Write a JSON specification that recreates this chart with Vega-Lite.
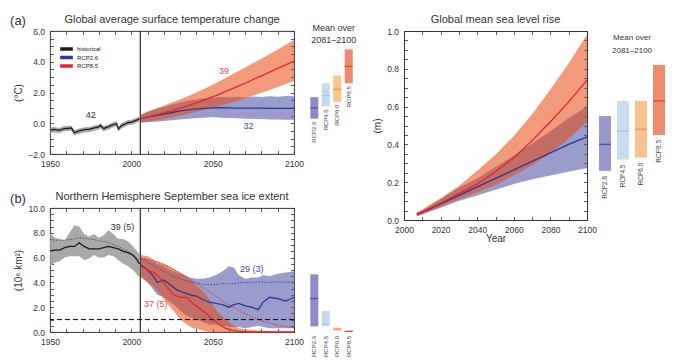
{
"$schema": "https://vega.github.io/schema/vega-lite/v6.json",
"background": "white",
"padding": {"left": 9, "top": 13, "right": 4, "bottom": 4},
"config": {
  "font": "Liberation Sans",
  "view": {"stroke": "#222", "strokeWidth": 0.9},
  "axis": {"domain": false, "grid": false, "tickSize": -3.5, "tickColor": "#333", "tickWidth": 0.8, "labelPadding": 9, "labelFontSize": 8.5, "labelColor": "#333", "labelFlush": false, "labelOverlap": false, "titleFontSize": 10, "titleFontWeight": "normal", "titleColor": "#333", "titlePadding": 4}
},
"datasets": {
  "tempA": [
    {"s":"historical","year":1950,"m":-0.45,"lo":-0.63,"hi":-0.29},
    {"s":"historical","year":1952,"m":-0.40,"lo":-0.58,"hi":-0.24},
    {"s":"historical","year":1954,"m":-0.43,"lo":-0.61,"hi":-0.27},
    {"s":"historical","year":1956,"m":-0.46,"lo":-0.64,"hi":-0.30},
    {"s":"historical","year":1958,"m":-0.36,"lo":-0.54,"hi":-0.20},
    {"s":"historical","year":1960,"m":-0.34,"lo":-0.52,"hi":-0.18},
    {"s":"historical","year":1962,"m":-0.33,"lo":-0.51,"hi":-0.17},
    {"s":"historical","year":1963,"m":-0.30,"lo":-0.48,"hi":-0.14},
    {"s":"historical","year":1964,"m":-0.45,"lo":-0.63,"hi":-0.29},
    {"s":"historical","year":1965,"m":-0.62,"lo":-0.80,"hi":-0.46},
    {"s":"historical","year":1966,"m":-0.57,"lo":-0.75,"hi":-0.41},
    {"s":"historical","year":1968,"m":-0.50,"lo":-0.68,"hi":-0.34},
    {"s":"historical","year":1970,"m":-0.45,"lo":-0.63,"hi":-0.29},
    {"s":"historical","year":1972,"m":-0.40,"lo":-0.58,"hi":-0.24},
    {"s":"historical","year":1974,"m":-0.40,"lo":-0.58,"hi":-0.24},
    {"s":"historical","year":1976,"m":-0.34,"lo":-0.52,"hi":-0.18},
    {"s":"historical","year":1978,"m":-0.28,"lo":-0.46,"hi":-0.12},
    {"s":"historical","year":1980,"m":-0.24,"lo":-0.42,"hi":-0.08},
    {"s":"historical","year":1981,"m":-0.14,"lo":-0.32,"hi":0.02},
    {"s":"historical","year":1982,"m":-0.24,"lo":-0.42,"hi":-0.08},
    {"s":"historical","year":1983,"m":-0.36,"lo":-0.54,"hi":-0.20},
    {"s":"historical","year":1984,"m":-0.30,"lo":-0.48,"hi":-0.14},
    {"s":"historical","year":1986,"m":-0.22,"lo":-0.40,"hi":-0.06},
    {"s":"historical","year":1988,"m":-0.12,"lo":-0.30,"hi":0.04},
    {"s":"historical","year":1990,"m":-0.05,"lo":-0.23,"hi":0.11},
    {"s":"historical","year":1991,"m":-0.03,"lo":-0.21,"hi":0.13},
    {"s":"historical","year":1992,"m":-0.36,"lo":-0.54,"hi":-0.20},
    {"s":"historical","year":1993,"m":-0.27,"lo":-0.45,"hi":-0.11},
    {"s":"historical","year":1994,"m":-0.15,"lo":-0.33,"hi":0.01},
    {"s":"historical","year":1996,"m":-0.06,"lo":-0.24,"hi":0.10},
    {"s":"historical","year":1998,"m":0.05,"lo":-0.13,"hi":0.21},
    {"s":"historical","year":2000,"m":0.06,"lo":-0.12,"hi":0.22},
    {"s":"historical","year":2002,"m":0.15,"lo":-0.03,"hi":0.31},
    {"s":"historical","year":2004,"m":0.24,"lo":0.06,"hi":0.40},
    {"s":"historical","year":2005,"m":0.28,"lo":0.10,"hi":0.44},
    {"s":"RCP2.6","year":2006,"m":0.30,"lo":0.05,"hi":0.55},
    {"s":"RCP2.6","year":2010,"m":0.40,"lo":0.06,"hi":0.74},
    {"s":"RCP2.6","year":2015,"m":0.50,"lo":0.10,"hi":0.92},
    {"s":"RCP2.6","year":2020,"m":0.60,"lo":0.14,"hi":1.06},
    {"s":"RCP2.6","year":2025,"m":0.70,"lo":0.20,"hi":1.22},
    {"s":"RCP2.6","year":2030,"m":0.80,"lo":0.24,"hi":1.34},
    {"s":"RCP2.6","year":2035,"m":0.87,"lo":0.30,"hi":1.46},
    {"s":"RCP2.6","year":2040,"m":0.93,"lo":0.34,"hi":1.55},
    {"s":"RCP2.6","year":2045,"m":0.97,"lo":0.36,"hi":1.62},
    {"s":"RCP2.6","year":2050,"m":1.00,"lo":0.40,"hi":1.64},
    {"s":"RCP2.6","year":2055,"m":1.01,"lo":0.36,"hi":1.70},
    {"s":"RCP2.6","year":2060,"m":1.00,"lo":0.34,"hi":1.68},
    {"s":"RCP2.6","year":2065,"m":0.99,"lo":0.32,"hi":1.72},
    {"s":"RCP2.6","year":2070,"m":0.98,"lo":0.30,"hi":1.68},
    {"s":"RCP2.6","year":2075,"m":0.98,"lo":0.28,"hi":1.74},
    {"s":"RCP2.6","year":2080,"m":0.98,"lo":0.28,"hi":1.70},
    {"s":"RCP2.6","year":2085,"m":0.97,"lo":0.25,"hi":1.76},
    {"s":"RCP2.6","year":2090,"m":0.97,"lo":0.24,"hi":1.72},
    {"s":"RCP2.6","year":2095,"m":0.97,"lo":0.22,"hi":1.78},
    {"s":"RCP2.6","year":2100,"m":0.97,"lo":0.22,"hi":1.75},
    {"s":"RCP8.5","year":2006,"m":0.30,"lo":0.05,"hi":0.55},
    {"s":"RCP8.5","year":2010,"m":0.42,"lo":0.10,"hi":0.75},
    {"s":"RCP8.5","year":2015,"m":0.55,"lo":0.20,"hi":0.95},
    {"s":"RCP8.5","year":2020,"m":0.68,"lo":0.28,"hi":1.15},
    {"s":"RCP8.5","year":2025,"m":0.82,"lo":0.38,"hi":1.35},
    {"s":"RCP8.5","year":2030,"m":0.98,"lo":0.50,"hi":1.55},
    {"s":"RCP8.5","year":2035,"m":1.15,"lo":0.62,"hi":1.78},
    {"s":"RCP8.5","year":2040,"m":1.33,"lo":0.75,"hi":2.00},
    {"s":"RCP8.5","year":2045,"m":1.52,"lo":0.88,"hi":2.25},
    {"s":"RCP8.5","year":2050,"m":1.72,"lo":1.00,"hi":2.50},
    {"s":"RCP8.5","year":2055,"m":1.93,"lo":1.15,"hi":2.78},
    {"s":"RCP8.5","year":2060,"m":2.15,"lo":1.30,"hi":3.05},
    {"s":"RCP8.5","year":2065,"m":2.38,"lo":1.45,"hi":3.35},
    {"s":"RCP8.5","year":2070,"m":2.60,"lo":1.62,"hi":3.62},
    {"s":"RCP8.5","year":2075,"m":2.85,"lo":1.80,"hi":3.92},
    {"s":"RCP8.5","year":2080,"m":3.08,"lo":1.98,"hi":4.20},
    {"s":"RCP8.5","year":2085,"m":3.32,"lo":2.15,"hi":4.50},
    {"s":"RCP8.5","year":2090,"m":3.57,"lo":2.35,"hi":4.80},
    {"s":"RCP8.5","year":2095,"m":3.80,"lo":2.55,"hi":5.10},
    {"s":"RCP8.5","year":2100,"m":4.05,"lo":2.75,"hi":5.40}
  ],
  "iceB": [
    {"s":"historical","year":1950,"m":6.55,"lo":5.3,"hi":8.0,"sub":7.45},
    {"s":"historical","year":1953,"m":6.6,"lo":5.6,"hi":7.6,"sub":7.4},
    {"s":"historical","year":1956,"m":6.6,"lo":5.7,"hi":7.5,"sub":7.4},
    {"s":"historical","year":1959,"m":6.8,"lo":6.0,"hi":7.4,"sub":7.4},
    {"s":"historical","year":1962,"m":6.9,"lo":6.1,"hi":8.0,"sub":7.45},
    {"s":"historical","year":1965,"m":6.9,"lo":6.1,"hi":8.6,"sub":7.5},
    {"s":"historical","year":1968,"m":7.2,"lo":6.1,"hi":8.5,"sub":7.6},
    {"s":"historical","year":1971,"m":6.9,"lo":5.8,"hi":7.9,"sub":7.55},
    {"s":"historical","year":1974,"m":6.7,"lo":5.9,"hi":7.7,"sub":7.5},
    {"s":"historical","year":1977,"m":6.7,"lo":6.2,"hi":7.9,"sub":7.45},
    {"s":"historical","year":1980,"m":6.7,"lo":6.0,"hi":7.6,"sub":7.35},
    {"s":"historical","year":1983,"m":6.8,"lo":6.0,"hi":7.8,"sub":7.3},
    {"s":"historical","year":1986,"m":6.9,"lo":6.2,"hi":8.2,"sub":7.2},
    {"s":"historical","year":1989,"m":6.8,"lo":6.1,"hi":7.9,"sub":7.05},
    {"s":"historical","year":1992,"m":6.7,"lo":5.8,"hi":7.5,"sub":6.9},
    {"s":"historical","year":1995,"m":6.5,"lo":5.5,"hi":7.5,"sub":6.7},
    {"s":"historical","year":1998,"m":6.4,"lo":5.3,"hi":7.3,"sub":6.5},
    {"s":"historical","year":2001,"m":6.2,"lo":5.0,"hi":6.9,"sub":6.2},
    {"s":"historical","year":2003,"m":5.9,"lo":4.7,"hi":6.6,"sub":6.0},
    {"s":"historical","year":2005,"m":5.5,"lo":4.4,"hi":6.3,"sub":5.8},
    {"s":"RCP2.6","year":2006,"m":5.4,"lo":4.4,"hi":6.0,"sub":5.9},
    {"s":"RCP2.6","year":2010,"m":5.0,"lo":4.0,"hi":5.9,"sub":5.6},
    {"s":"RCP2.6","year":2013,"m":4.6,"lo":3.5,"hi":5.7,"sub":5.4},
    {"s":"RCP2.6","year":2016,"m":4.0,"lo":3.0,"hi":5.5,"sub":5.2},
    {"s":"RCP2.6","year":2020,"m":4.2,"lo":2.8,"hi":5.3,"sub":4.9},
    {"s":"RCP2.6","year":2024,"m":3.8,"lo":2.4,"hi":5.0,"sub":4.6},
    {"s":"RCP2.6","year":2028,"m":3.4,"lo":2.0,"hi":4.8,"sub":4.4},
    {"s":"RCP2.6","year":2032,"m":3.2,"lo":1.5,"hi":4.6,"sub":4.2},
    {"s":"RCP2.6","year":2036,"m":3.0,"lo":1.2,"hi":4.4,"sub":4.05},
    {"s":"RCP2.6","year":2040,"m":2.9,"lo":1.0,"hi":4.3,"sub":3.95},
    {"s":"RCP2.6","year":2044,"m":2.6,"lo":0.8,"hi":4.3,"sub":3.85},
    {"s":"RCP2.6","year":2048,"m":2.4,"lo":0.6,"hi":4.4,"sub":3.8},
    {"s":"RCP2.6","year":2052,"m":2.3,"lo":0.6,"hi":4.6,"sub":3.85},
    {"s":"RCP2.6","year":2056,"m":2.2,"lo":0.5,"hi":4.9,"sub":3.9},
    {"s":"RCP2.6","year":2060,"m":2.0,"lo":0.4,"hi":5.3,"sub":3.9},
    {"s":"RCP2.6","year":2063,"m":2.2,"lo":0.4,"hi":5.2,"sub":3.9},
    {"s":"RCP2.6","year":2066,"m":2.3,"lo":0.4,"hi":4.6,"sub":3.95},
    {"s":"RCP2.6","year":2070,"m":2.1,"lo":0.3,"hi":4.3,"sub":4.0},
    {"s":"RCP2.6","year":2074,"m":2.0,"lo":0.4,"hi":4.4,"sub":4.0},
    {"s":"RCP2.6","year":2078,"m":1.8,"lo":0.5,"hi":4.4,"sub":4.05},
    {"s":"RCP2.6","year":2081,"m":2.4,"lo":0.4,"hi":4.6,"sub":4.0},
    {"s":"RCP2.6","year":2085,"m":2.8,"lo":0.3,"hi":4.5,"sub":4.0},
    {"s":"RCP2.6","year":2090,"m":2.7,"lo":0.3,"hi":4.7,"sub":4.05},
    {"s":"RCP2.6","year":2095,"m":2.5,"lo":0.3,"hi":4.8,"sub":4.0},
    {"s":"RCP2.6","year":2100,"m":2.8,"lo":0.3,"hi":4.9,"sub":4.05},
    {"s":"RCP8.5","year":2006,"m":5.3,"lo":4.5,"hi":6.2,"sub":5.95},
    {"s":"RCP8.5","year":2010,"m":5.0,"lo":4.0,"hi":6.1,"sub":5.85},
    {"s":"RCP8.5","year":2014,"m":4.8,"lo":3.6,"hi":5.8,"sub":5.75},
    {"s":"RCP8.5","year":2018,"m":4.3,"lo":3.0,"hi":5.6,"sub":5.55},
    {"s":"RCP8.5","year":2022,"m":3.6,"lo":2.3,"hi":5.4,"sub":5.3},
    {"s":"RCP8.5","year":2026,"m":3.0,"lo":1.7,"hi":5.1,"sub":5.05},
    {"s":"RCP8.5","year":2030,"m":2.8,"lo":1.0,"hi":4.8,"sub":4.75},
    {"s":"RCP8.5","year":2034,"m":2.8,"lo":0.6,"hi":4.5,"sub":4.45},
    {"s":"RCP8.5","year":2038,"m":2.3,"lo":0.3,"hi":4.0,"sub":4.1},
    {"s":"RCP8.5","year":2042,"m":1.9,"lo":0.2,"hi":3.5,"sub":3.75},
    {"s":"RCP8.5","year":2046,"m":1.5,"lo":0.05,"hi":3.0,"sub":3.4},
    {"s":"RCP8.5","year":2050,"m":1.0,"lo":0.0,"hi":2.2,"sub":3.05},
    {"s":"RCP8.5","year":2054,"m":0.6,"lo":0.0,"hi":1.5,"sub":2.7},
    {"s":"RCP8.5","year":2058,"m":0.3,"lo":0.0,"hi":1.0,"sub":2.35},
    {"s":"RCP8.5","year":2062,"m":0.15,"lo":0.0,"hi":0.6,"sub":2.05},
    {"s":"RCP8.5","year":2066,"m":0.05,"lo":0.0,"hi":0.3,"sub":1.75},
    {"s":"RCP8.5","year":2070,"m":0.02,"lo":0.0,"hi":0.2,"sub":1.45},
    {"s":"RCP8.5","year":2080,"m":0.0,"lo":0.0,"hi":0.1,"sub":0.9},
    {"s":"RCP8.5","year":2090,"m":0.0,"lo":0.0,"hi":0.05,"sub":0.55},
    {"s":"RCP8.5","year":2100,"m":0.0,"lo":0.0,"hi":0.05,"sub":0.35}
  ],
  "slrC": [
    {"s":"RCP2.6","year":2007,"m":0.03,"lo":0.02,"hi":0.04},
    {"s":"RCP2.6","year":2010,"m":0.04,"lo":0.03,"hi":0.05},
    {"s":"RCP2.6","year":2020,"m":0.085,"lo":0.065,"hi":0.11},
    {"s":"RCP2.6","year":2030,"m":0.13,"lo":0.10,"hi":0.17},
    {"s":"RCP2.6","year":2040,"m":0.175,"lo":0.13,"hi":0.22},
    {"s":"RCP2.6","year":2050,"m":0.22,"lo":0.16,"hi":0.28},
    {"s":"RCP2.6","year":2060,"m":0.265,"lo":0.19,"hi":0.34},
    {"s":"RCP2.6","year":2070,"m":0.31,"lo":0.215,"hi":0.405},
    {"s":"RCP2.6","year":2080,"m":0.355,"lo":0.235,"hi":0.47},
    {"s":"RCP2.6","year":2090,"m":0.40,"lo":0.255,"hi":0.54},
    {"s":"RCP2.6","year":2100,"m":0.44,"lo":0.275,"hi":0.60},
    {"s":"RCP8.5","year":2007,"m":0.03,"lo":0.02,"hi":0.04},
    {"s":"RCP8.5","year":2010,"m":0.04,"lo":0.03,"hi":0.055},
    {"s":"RCP8.5","year":2020,"m":0.09,"lo":0.07,"hi":0.115},
    {"s":"RCP8.5","year":2030,"m":0.14,"lo":0.11,"hi":0.18},
    {"s":"RCP8.5","year":2040,"m":0.19,"lo":0.145,"hi":0.26},
    {"s":"RCP8.5","year":2050,"m":0.255,"lo":0.185,"hi":0.345},
    {"s":"RCP8.5","year":2060,"m":0.33,"lo":0.235,"hi":0.445},
    {"s":"RCP8.5","year":2070,"m":0.42,"lo":0.29,"hi":0.56},
    {"s":"RCP8.5","year":2080,"m":0.52,"lo":0.355,"hi":0.69},
    {"s":"RCP8.5","year":2090,"m":0.625,"lo":0.43,"hi":0.83},
    {"s":"RCP8.5","year":2100,"m":0.74,"lo":0.52,"hi":0.98}
  ],
  "sideA": [
    {"rcp":"RCP2.6","m":1.0,"lo":0.3,"hi":1.7},
    {"rcp":"RCP4.5","m":1.8,"lo":1.1,"hi":2.6},
    {"rcp":"RCP6.0","m":2.2,"lo":1.4,"hi":3.1},
    {"rcp":"RCP8.5","m":3.7,"lo":2.6,"hi":4.8}
  ],
  "sideB": [
    {"rcp":"RCP2.6","m":2.7,"lo":0.45,"hi":4.65},
    {"rcp":"RCP4.5","m":0.6,"lo":0.5,"hi":1.7},
    {"rcp":"RCP6.0","m":0.22,"lo":0.12,"hi":0.35},
    {"rcp":"RCP8.5","m":0.05,"lo":0.0,"hi":0.1}
  ],
  "sideC": [
    {"rcp":"RCP2.6","m":0.40,"lo":0.26,"hi":0.55},
    {"rcp":"RCP4.5","m":0.47,"lo":0.32,"hi":0.63},
    {"rcp":"RCP6.0","m":0.48,"lo":0.33,"hi":0.63},
    {"rcp":"RCP8.5","m":0.63,"lo":0.45,"hi":0.82}
  ]
},
"columns": 4,
"align": "each",
"bounds": "flush",
"spacing": {"row": 0, "column": 9},
"resolve": {"scale": {"color": "independent", "fill": "independent", "stroke": "independent"}, "legend": {"color": "independent", "fill": "independent", "stroke": "independent"}},
"concat": [
  {
    "width": 244, "height": 123,
    "data": {"name": "tempA"},
    "resolve": {"axis": {"x": "independent", "y": "independent"}},
    "layer": [
      {
        "transform": [{"filter": "datum.s == 'historical'"}],
        "mark": {"type": "area", "color": "#9a9a9a", "opacity": 0.85},
        "encoding": {
          "x": {"field": "year", "type": "quantitative", "scale": {"domain": [1950, 2100], "nice": false, "zero": false},
                "axis": {"values": [1950,1960,1970,1980,1990,2000,2010,2020,2030,2040,2050,2060,2070,2080,2090,2100], "labelExpr": "datum.value % 50 == 0 ? format(datum.value, 'd') : ''", "title": null}},
          "y": {"field": "lo", "type": "quantitative", "scale": {"domain": [-2, 6], "nice": false, "zero": false},
                "axis": {"values": [-2,-1.5,-1,-0.5,0,0.5,1,1.5,2,2.5,3,3.5,4,4.5,5,5.5,6], "labelExpr": "datum.value % 2 == 0 ? format(datum.value, '.1f') : ''", "title": "(°C)"}},
          "y2": {"field": "hi"}
        }
      },
      {
        "transform": [{"filter": "datum.s == 'RCP2.6'"}],
        "mark": {"type": "area", "color": "#5a5aaa", "opacity": 0.6},
        "encoding": {
          "x": {"field": "year", "type": "quantitative", "axis": null},
          "y": {"field": "lo", "type": "quantitative", "axis": null},
          "y2": {"field": "hi"}
        }
      },
      {
        "transform": [{"filter": "datum.s == 'RCP8.5'"}],
        "mark": {"type": "area", "color": "#e54711", "opacity": 0.55},
        "encoding": {
          "x": {"field": "year", "type": "quantitative", "axis": null},
          "y": {"field": "lo", "type": "quantitative", "axis": null},
          "y2": {"field": "hi"}
        }
      },
      {
        "mark": {"type": "line", "strokeWidth": 1.3},
        "encoding": {
          "x": {"field": "year", "type": "quantitative", "axis": null},
          "y": {"field": "m", "type": "quantitative", "axis": null},
          "color": {"field": "s", "type": "nominal",
                    "scale": {"domain": ["historical", "RCP2.6", "RCP8.5"], "range": ["#1a1a1a", "#2b3990", "#e3262b"]},
                    "legend": {"orient": "none", "legendX": 8, "legendY": 15, "title": null, "symbolType": "stroke", "symbolStrokeWidth": 3.5, "symbolSize": 160, "labelFontSize": 6, "labelColor": "#222", "rowPadding": 2.5, "clipHeight": 6, "labelOffset": 2, "padding": 0}}
        }
      },
      {
        "data": {"values": [{}]},
        "mark": {"type": "rule", "color": "#000", "strokeWidth": 1},
        "encoding": {"x": {"datum": 2005.5, "axis": null}}
      },
      {
        "data": {"values": [{}]},
        "mark": {"type": "text", "text": "42", "fontSize": 9, "color": "#333"},
        "encoding": {"x": {"datum": 1975, "axis": null}, "y": {"datum": 0.55, "axis": null}}
      },
      {
        "data": {"values": [{}]},
        "mark": {"type": "text", "text": "39", "fontSize": 9, "color": "#e8474c"},
        "encoding": {"x": {"datum": 2057, "axis": null}, "y": {"datum": 3.4, "axis": null}}
      },
      {
        "data": {"values": [{}]},
        "mark": {"type": "text", "text": "32", "fontSize": 9, "color": "#3b4aa0"},
        "encoding": {"x": {"datum": 2072, "axis": null}, "y": {"datum": -0.17, "axis": null}}
      },
      {
        "data": {"values": [{}]},
        "mark": {"type": "text", "text": "(a)", "fontSize": 13, "color": "#333", "dx": -32, "dy": -10},
        "encoding": {"x": {"datum": 1950, "axis": null}, "y": {"datum": 6, "axis": null}}
      },
      {
        "data": {"values": [{}]},
        "mark": {"type": "text", "text": "Global average surface temperature change", "fontSize": 11, "color": "#333", "dy": -11.5},
        "encoding": {"x": {"datum": 2025, "axis": null}, "y": {"datum": 6, "axis": null}}
      },
      {
        "mark": {"type": "point", "opacity": 0},
        "encoding": {
          "x": {"field": "year", "type": "quantitative", "axis": {"orient": "top", "values": [1950,1960,1970,1980,1990,2000,2010,2020,2030,2040,2050,2060,2070,2080,2090,2100], "labels": false, "title": null}},
          "y": {"field": "m", "type": "quantitative", "axis": {"orient": "right", "values": [-2,-1.5,-1,-0.5,0,0.5,1,1.5,2,2.5,3,3.5,4,4.5,5,5.5,6], "labels": false, "title": null}}
        }
      }
    ]
  },
  {
    "width": 92, "height": 123, "view": {"stroke": null},
    "data": {"name": "sideA"},
    "layer": [
      {
        "mark": {"type": "bar"},
        "encoding": {
          "x": {"field": "rcp", "type": "nominal", "sort": null, "scale": {"range": [5, 52], "paddingInner": 0.3, "paddingOuter": 0.2}, "axis": null},
          "y": {"field": "lo", "type": "quantitative", "scale": {"domain": [-2, 6], "nice": false, "zero": false}, "axis": null},
          "y2": {"field": "hi"},
          "fill": {"field": "rcp", "type": "nominal", "scale": {"domain": ["RCP2.6","RCP4.5","RCP6.0","RCP8.5"], "range": ["#8d8dc6","#c6daf0","#fbc490","#f08a6c"]}, "legend": null}
        }
      },
      {
        "mark": {"type": "tick", "thickness": 1.3, "size": 8},
        "encoding": {
          "x": {"field": "rcp", "type": "nominal", "sort": null},
          "y": {"field": "m", "type": "quantitative"},
          "color": {"field": "rcp", "type": "nominal", "scale": {"domain": ["RCP2.6","RCP4.5","RCP6.0","RCP8.5"], "range": ["#2c3b94","#94bde6","#f0892a","#e3262b"]}, "legend": null}
        }
      },
      {
        "mark": {"type": "text", "angle": 270, "align": "right", "baseline": "middle", "dx": -3, "fontSize": 6, "color": "#444"},
        "encoding": {
          "x": {"field": "rcp", "type": "nominal", "sort": null},
          "y": {"field": "lo", "type": "quantitative"},
          "text": {"field": "rcp"}
        }
      },
      {
        "data": {"values": [{}]},
        "mark": {"type": "text", "text": ["Mean over", "2081–2100"], "baseline": "top", "dx": 8, "dy": -7, "fontSize": 9, "lineHeight": 11.5, "color": "#333"},
        "encoding": {"x": {"datum": "RCP4.5"}, "y": {"datum": 6}}
      }
    ]
  },
  {
    "width": 183, "height": 177, "view": {"stroke": null},
    "data": {"name": "slrC"},
    "resolve": {"axis": {"x": "independent", "y": "independent"}},
    "layer": [
      {
        "transform": [{"filter": "datum.s == 'RCP2.6'"}],
        "mark": {"type": "area", "color": "#5a5aaa", "opacity": 0.6},
        "encoding": {
          "x": {"field": "year", "type": "quantitative", "scale": {"domain": [2000, 2100], "nice": false, "zero": false},
                "axis": {"values": [2000,2010,2020,2030,2040,2050,2060,2070,2080,2090,2100], "labelExpr": "datum.value % 20 == 0 ? format(datum.value, 'd') : ''", "title": "Year", "titlePadding": -1, "offset": 12, "domain": true, "domainColor": "#222", "domainWidth": 0.9}},
          "y": {"field": "lo", "type": "quantitative", "scale": {"domain": [0, 1], "range": [189, 0], "nice": false, "zero": false},
                "axis": {"values": [0,0.05,0.1,0.15,0.2,0.25,0.3,0.35,0.4,0.45,0.5,0.55,0.6,0.65,0.7,0.75,0.8,0.85,0.9,0.95,1], "labelExpr": "round(datum.value * 100) % 20 == 0 ? format(datum.value, '.1f') : ''", "title": "(m)", "domain": true, "domainColor": "#222", "domainWidth": 0.9}},
          "y2": {"field": "hi"}
        }
      },
      {
        "transform": [{"filter": "datum.s == 'RCP8.5'"}],
        "mark": {"type": "area", "color": "#e54711", "opacity": 0.55},
        "encoding": {
          "x": {"field": "year", "type": "quantitative", "axis": null},
          "y": {"field": "lo", "type": "quantitative", "axis": null},
          "y2": {"field": "hi"}
        }
      },
      {
        "mark": {"type": "line", "strokeWidth": 1.3},
        "encoding": {
          "x": {"field": "year", "type": "quantitative", "axis": null},
          "y": {"field": "m", "type": "quantitative", "axis": null},
          "color": {"field": "s", "type": "nominal", "scale": {"domain": ["RCP2.6", "RCP8.5"], "range": ["#2b3990", "#e3262b"]}, "legend": null}
        }
      },
      {
        "data": {"values": [{}]},
        "mark": {"type": "text", "text": "Global mean sea level rise", "fontSize": 11, "color": "#333", "dy": -11.5},
        "encoding": {"x": {"datum": 2050, "axis": null}, "y": {"datum": 1, "axis": null}}
      },
      {
        "mark": {"type": "point", "opacity": 0},
        "encoding": {
          "x": {"field": "year", "type": "quantitative", "axis": {"orient": "top", "values": [2000,2010,2020,2030,2040,2050,2060,2070,2080,2090,2100], "labels": false, "title": null, "domain": true, "domainColor": "#222", "domainWidth": 0.9}},
          "y": {"field": "m", "type": "quantitative", "axis": {"orient": "right", "values": [0,0.05,0.1,0.15,0.2,0.25,0.3,0.35,0.4,0.45,0.5,0.55,0.6,0.65,0.7,0.75,0.8,0.85,0.9,0.95,1], "labels": false, "title": null, "domain": true, "domainColor": "#222", "domainWidth": 0.9}}
        }
      }
    ]
  },
  {
    "width": 72, "height": 177, "view": {"stroke": null},
    "data": {"name": "sideC"},
    "layer": [
      {
        "mark": {"type": "bar"},
        "encoding": {
          "x": {"field": "rcp", "type": "nominal", "sort": null, "scale": {"paddingInner": 0.33, "paddingOuter": 0.165}, "axis": null},
          "y": {"field": "lo", "type": "quantitative", "scale": {"domain": [0, 1], "range": [189, 0], "nice": false, "zero": false}, "axis": null},
          "y2": {"field": "hi"},
          "fill": {"field": "rcp", "type": "nominal", "scale": {"domain": ["RCP2.6","RCP4.5","RCP6.0","RCP8.5"], "range": ["#9898cb","#c9dcf0","#f9c28f","#f08b6e"]}, "legend": null}
        }
      },
      {
        "mark": {"type": "tick", "thickness": 1.4, "size": 12},
        "encoding": {
          "x": {"field": "rcp", "type": "nominal", "sort": null},
          "y": {"field": "m", "type": "quantitative"},
          "color": {"field": "rcp", "type": "nominal", "scale": {"domain": ["RCP2.6","RCP4.5","RCP6.0","RCP8.5"], "range": ["#2c3b94","#94bde6","#f0892a","#e3262b"]}, "legend": null}
        }
      },
      {
        "mark": {"type": "text", "angle": 270, "align": "right", "baseline": "middle", "dx": -5, "fontSize": 6.5, "color": "#444"},
        "encoding": {
          "x": {"field": "rcp", "type": "nominal", "sort": null},
          "y": {"field": "lo", "type": "quantitative"},
          "text": {"field": "rcp"}
        }
      },
      {
        "data": {"values": [{}]},
        "mark": {"type": "text", "text": ["Mean over", "2081–2100"], "baseline": "top", "dy": 3, "fontSize": 8, "lineHeight": 13, "color": "#333"},
        "encoding": {"y": {"datum": 1}}
      }
    ]
  },
  {
    "width": 244, "height": 124,
    "data": {"name": "iceB"},
    "resolve": {"axis": {"x": "independent", "y": "independent"}},
    "layer": [
      {
        "transform": [{"filter": "datum.s == 'historical'"}],
        "mark": {"type": "area", "color": "#a0a0a0", "opacity": 0.9},
        "encoding": {
          "x": {"field": "year", "type": "quantitative", "scale": {"domain": [1950, 2100], "nice": false, "zero": false},
                "axis": {"values": [1950,1960,1970,1980,1990,2000,2010,2020,2030,2040,2050,2060,2070,2080,2090,2100], "labelExpr": "datum.value % 50 == 0 ? format(datum.value, 'd') : ''", "title": null}},
          "y": {"field": "lo", "type": "quantitative", "scale": {"domain": [0, 10], "nice": false, "zero": false},
                "axis": {"values": [0,0.5,1,1.5,2,2.5,3,3.5,4,4.5,5,5.5,6,6.5,7,7.5,8,8.5,9,9.5,10], "labelExpr": "datum.value % 2 == 0 ? format(datum.value, '.1f') : ''", "title": "(10⁶ km²)"}},
          "y2": {"field": "hi"}
        }
      },
      {
        "transform": [{"filter": "datum.s == 'RCP2.6'"}],
        "mark": {"type": "area", "color": "#5a5aaa", "opacity": 0.6},
        "encoding": {
          "x": {"field": "year", "type": "quantitative", "axis": null},
          "y": {"field": "lo", "type": "quantitative", "axis": null},
          "y2": {"field": "hi"}
        }
      },
      {
        "transform": [{"filter": "datum.s == 'RCP8.5'"}],
        "mark": {"type": "area", "color": "#e54711", "opacity": 0.55},
        "encoding": {
          "x": {"field": "year", "type": "quantitative", "axis": null},
          "y": {"field": "lo", "type": "quantitative", "axis": null},
          "y2": {"field": "hi"}
        }
      },
      {
        "mark": {"type": "line", "strokeWidth": 1, "strokeDash": [1.5, 1.5]},
        "encoding": {
          "x": {"field": "year", "type": "quantitative", "axis": null},
          "y": {"field": "sub", "type": "quantitative", "axis": null},
          "color": {"field": "s", "type": "nominal", "scale": {"domain": ["historical", "RCP2.6", "RCP8.5"], "range": ["#555555", "#3b4aa0", "#e3262b"]}, "legend": null}
        }
      },
      {
        "mark": {"type": "line", "strokeWidth": 1.3},
        "encoding": {
          "x": {"field": "year", "type": "quantitative", "axis": null},
          "y": {"field": "m", "type": "quantitative", "axis": null},
          "stroke": {"field": "s", "type": "nominal", "scale": {"domain": ["historical", "RCP2.6", "RCP8.5"], "range": ["#1a1a1a", "#2b3990", "#e3262b"]}, "legend": null}
        }
      },
      {
        "data": {"values": [{}]},
        "mark": {"type": "rule", "color": "#000", "strokeWidth": 1},
        "encoding": {"x": {"datum": 2005.5, "axis": null}}
      },
      {
        "data": {"values": [{}]},
        "mark": {"type": "rule", "color": "#000", "strokeWidth": 1, "strokeDash": [5, 3]},
        "encoding": {"y": {"datum": 1.0, "axis": null}}
      },
      {
        "data": {"values": [{}]},
        "mark": {"type": "text", "text": "39 (5)", "fontSize": 9, "color": "#333"},
        "encoding": {"x": {"datum": 1994.5, "axis": null}, "y": {"datum": 8.45, "axis": null}}
      },
      {
        "data": {"values": [{}]},
        "mark": {"type": "text", "text": "29 (3)", "fontSize": 9, "color": "#3b4aa0"},
        "encoding": {"x": {"datum": 2074, "axis": null}, "y": {"datum": 5.12, "axis": null}}
      },
      {
        "data": {"values": [{}]},
        "mark": {"type": "text", "text": "37 (5)", "fontSize": 9, "color": "#e8474c"},
        "encoding": {"x": {"datum": 2015, "axis": null}, "y": {"datum": 2.28, "axis": null}}
      },
      {
        "data": {"values": [{}]},
        "mark": {"type": "text", "text": "(b)", "fontSize": 13, "color": "#333", "dx": -32, "dy": -9},
        "encoding": {"x": {"datum": 1950, "axis": null}, "y": {"datum": 10, "axis": null}}
      },
      {
        "data": {"values": [{}]},
        "mark": {"type": "text", "text": "Northern Hemisphere September sea ice extent", "fontSize": 11, "color": "#333", "dy": -11},
        "encoding": {"x": {"datum": 2025, "axis": null}, "y": {"datum": 10, "axis": null}}
      },
      {
        "mark": {"type": "point", "opacity": 0},
        "encoding": {
          "x": {"field": "year", "type": "quantitative", "axis": {"orient": "top", "values": [1950,1960,1970,1980,1990,2000,2010,2020,2030,2040,2050,2060,2070,2080,2090,2100], "labels": false, "title": null}},
          "y": {"field": "m", "type": "quantitative", "axis": {"orient": "right", "values": [0,0.5,1,1.5,2,2.5,3,3.5,4,4.5,5,5.5,6,6.5,7,7.5,8,8.5,9,9.5,10], "labels": false, "title": null}}
        }
      }
    ]
  },
  {
    "width": 92, "height": 124, "view": {"stroke": null},
    "data": {"name": "sideB"},
    "layer": [
      {
        "mark": {"type": "bar"},
        "encoding": {
          "x": {"field": "rcp", "type": "nominal", "sort": null, "scale": {"range": [5, 52], "paddingInner": 0.3, "paddingOuter": 0.2}, "axis": null},
          "y": {"field": "lo", "type": "quantitative", "scale": {"domain": [0, 10], "nice": false, "zero": false}, "axis": null},
          "y2": {"field": "hi"},
          "fill": {"field": "rcp", "type": "nominal", "scale": {"domain": ["RCP2.6","RCP4.5","RCP6.0","RCP8.5"], "range": ["#8d8dc6","#c6daf0","#fbc490","#f08a6c"]}, "legend": null}
        }
      },
      {
        "mark": {"type": "tick", "thickness": 1.3, "size": 8},
        "encoding": {
          "x": {"field": "rcp", "type": "nominal", "sort": null},
          "y": {"field": "m", "type": "quantitative"},
          "color": {"field": "rcp", "type": "nominal", "scale": {"domain": ["RCP2.6","RCP4.5","RCP6.0","RCP8.5"], "range": ["#2c3b94","#94bde6","#f0892a","#e3262b"]}, "legend": null}
        }
      },
      {
        "mark": {"type": "text", "angle": 270, "align": "right", "baseline": "middle", "dx": -4, "fontSize": 6, "color": "#444"},
        "encoding": {
          "x": {"field": "rcp", "type": "nominal", "sort": null},
          "y": {"datum": 0},
          "text": {"field": "rcp"}
        }
      }
    ]
  }
]
}
